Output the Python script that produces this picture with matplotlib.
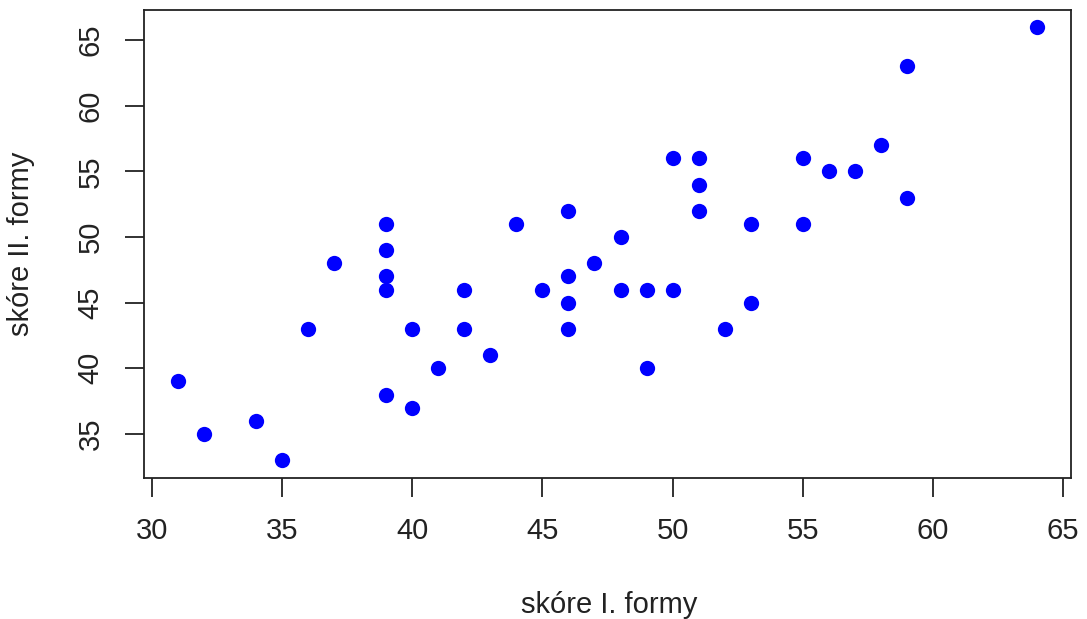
import matplotlib
matplotlib.use("Agg")
import matplotlib.pyplot as plt

# skóre I. formy vs skóre II. formy
form1 = [31, 32, 34, 35, 36, 37, 39, 39, 39, 39, 39, 40, 40, 41, 42, 42, 43, 44,
         45, 46, 46, 46, 46, 47, 48, 48, 49, 49, 50, 50, 51, 51, 51, 52, 53, 53,
         55, 55, 56, 57, 58, 59, 59, 64]
form2 = [39, 35, 36, 33, 43, 48, 51, 49, 47, 46, 38, 43, 37, 40, 46, 43, 41, 51,
         46, 52, 47, 45, 43, 48, 50, 46, 46, 40, 56, 46, 56, 54, 52, 43, 51, 45,
         56, 51, 55, 55, 57, 63, 53, 66]
x_ticks = [30, 35, 40, 45, 50, 55, 60, 65]
y_ticks = [35, 40, 45, 50, 55, 60, 65]

plt.rcParams['font.family'] = ['Liberation Sans', 'DejaVu Sans']

W, H = 1087, 619
fig = plt.figure(figsize=(W / 100, H / 100), dpi=100)
ax = fig.add_axes([144 / W, 1 - 477.6 / H, 927 / W, 468 / H])

ax.plot(form1, form2, 'o', color='#0000FF', markersize=11, markeredgewidth=0)

# R style 4% axis extension
def ext(v):
    lo, hi = min(v), max(v)
    d = (hi - lo) * 0.04
    return lo - d, hi + d

ax.set_xlim(*ext(form1))
ax.set_ylim(*ext(form2))

ax.set_xticks(x_ticks)
ax.set_yticks(y_ticks)
ax.set_xticklabels([str(t) for t in x_ticks])
ax.set_yticklabels([str(t) for t in y_ticks], rotation=90, va='center')

for s in ax.spines.values():
    s.set_linewidth(1.3)
    s.set_color('#222222')
ax.tick_params(axis='both', direction='out', length=13.5, width=1.3,
               color='#222222', labelsize=21, labelcolor='#222222')
ax.tick_params(axis='x', pad=15)
ax.tick_params(axis='y', pad=15)

fig.text(609 / W, 1 - 605 / H, 'skóre I. formy', ha='center', va='center',
         fontsize=21, color='#222222')
fig.text(21 / W, 1 - 243.6 / H, 'skóre II. formy', ha='center', va='center',
         rotation=90, fontsize=21, color='#222222')

fig.savefig('out.png', dpi=100)
